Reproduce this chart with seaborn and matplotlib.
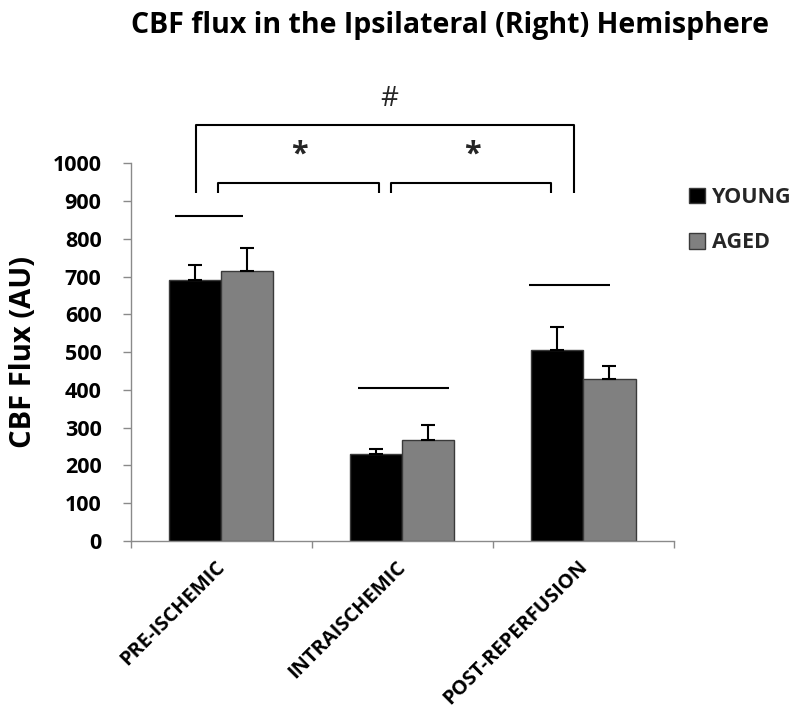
import numpy as np
import pandas as pd
import matplotlib
matplotlib.use("Agg")
import matplotlib.pyplot as plt
import seaborn as sns
from matplotlib.patches import Patch
from matplotlib import transforms

# ---- data ----
categories = ["PRE-ISCHEMIC", "INTRAISCHEMIC", "POST-REPERFUSION"]
groups = ["YOUNG", "AGED"]
young_mean = [690, 230, 505]
young_err = [40, 13, 62]
aged_mean = [715, 268, 428]
aged_err = [60, 40, 35]
yticks = list(range(0, 1001, 100))
title = "CBF flux in the Ipsilateral (Right) Hemisphere"
ylabel = "CBF Flux (AU)"

df = pd.DataFrame({
    "phase": categories * 2,
    "group": ["YOUNG"] * 3 + ["AGED"] * 3,
    "flux": young_mean + aged_mean,
    "err": young_err + aged_err,
})

sns.set_theme(style="white")
plt.rcParams["font.family"] = ["Open Sans", "DejaVu Sans"]
plt.rcParams["font.weight"] = "bold"

fig = plt.figure(figsize=(8, 7.14), dpi=100)
ax = fig.add_axes([0.1634, 0.2423, 0.6791, 0.529])

colors = {"YOUNG": "#000000", "AGED": "#808080"}
sns.barplot(data=df, x="phase", y="flux", hue="group", order=categories,
            hue_order=groups, palette=colors, width=0.575, gap=0,
            errorbar=None, saturation=1, edgecolor="#3a3a3a", linewidth=1,
            legend=False, ax=ax)

# upward-only error bars
for cont, g in zip(ax.containers, groups):
    sub = df[df.group == g].set_index("phase").loc[categories]
    xs = [b.get_x() + b.get_width() / 2 for b in cont]
    ax.errorbar(xs, sub["flux"].values,
                yerr=[np.zeros(len(xs)), sub["err"].values],
                fmt="none", ecolor="black", elinewidth=1.5, capsize=5,
                capthick=1.5, zorder=3)

ax.set_ylim(0, 1000)
ax.set_xlim(-0.5, 2.5)
sns.despine(ax=ax)
for s in ["left", "bottom"]:
    ax.spines[s].set_color("#8a8a8a")
    ax.spines[s].set_linewidth(1)

ax.set_yticks(yticks)
ax.set_yticklabels([str(v) for v in yticks], fontweight="bold")
ax.tick_params(axis="y", left=True, length=6, width=1, color="#8a8a8a",
               direction="out", pad=15, labelsize=15.5, labelcolor="black")

ax.set_xticks([0, 1, 2])
ax.set_xticklabels([])
ax.tick_params(axis="x", which="major", length=0)
ax.set_xticks([-0.5, 0.5, 1.5, 2.5], minor=True)
ax.tick_params(axis="x", which="minor", bottom=True, length=5, width=1,
               color="#8a8a8a", direction="out")
ax.set_xlabel("")

# rotated category labels
lab_tr = transforms.offset_copy(ax.get_xaxis_transform(), fig=fig,
                                x=-4.5, y=-11.5, units="points")
for i, c in enumerate(categories):
    ax.text(i, 0, c, transform=lab_tr, rotation=45, rotation_mode="anchor",
            ha="right", va="top", fontsize=14.5, fontweight="bold",
            color="black", clip_on=False)

ax.set_ylabel(ylabel, fontsize=21, fontweight="bold", color="black")
ax.yaxis.set_label_coords(-0.17, 0.5)

fig.text(0.5625, 1 - 33 / 714, title, ha="center", va="baseline",
         fontsize=20.5, fontweight="bold", color="black")

# significance annotations
lk = dict(color="black", lw=1.5, clip_on=False, solid_capstyle="butt")
ax.plot([-0.138, -0.138, 1.949, 1.949], [922, 1101, 1101, 922], **lk)
ax.plot([-0.017, -0.017, 0.873, 0.873], [922, 949, 949, 922], **lk)
ax.plot([0.938, 0.938, 1.823, 1.823], [922, 949, 949, 922], **lk)
ax.text(0.925, 1171, "#", ha="center", va="center", fontsize=20,
        fontweight="normal", clip_on=False)
ax.text(0.43, 1022, "*", ha="center", va="center", fontsize=22,
        fontweight="bold", clip_on=False)
ax.text(1.385, 1022, "*", ha="center", va="center", fontsize=22,
        fontweight="bold", clip_on=False)
ax.plot([-0.254, 0.122], [860, 860], **lk)
ax.plot([0.757, 1.260], [405, 405], **lk)
ax.plot([1.702, 2.144], [678, 678], **lk)

handles = [Patch(facecolor=colors[g], edgecolor="#3a3a3a", linewidth=1)
           for g in groups]
leg = fig.legend(handles, groups, loc="upper left",
                 bbox_to_anchor=(689 / 800, 1 - 187 / 714), frameon=False,
                 prop={"weight": "bold", "size": 15.5}, handlelength=0.75,
                 handleheight=0.75, handletextpad=0.3, labelspacing=1.13,
                 borderpad=0, borderaxespad=0)

fig.savefig("out.png", dpi=100)
